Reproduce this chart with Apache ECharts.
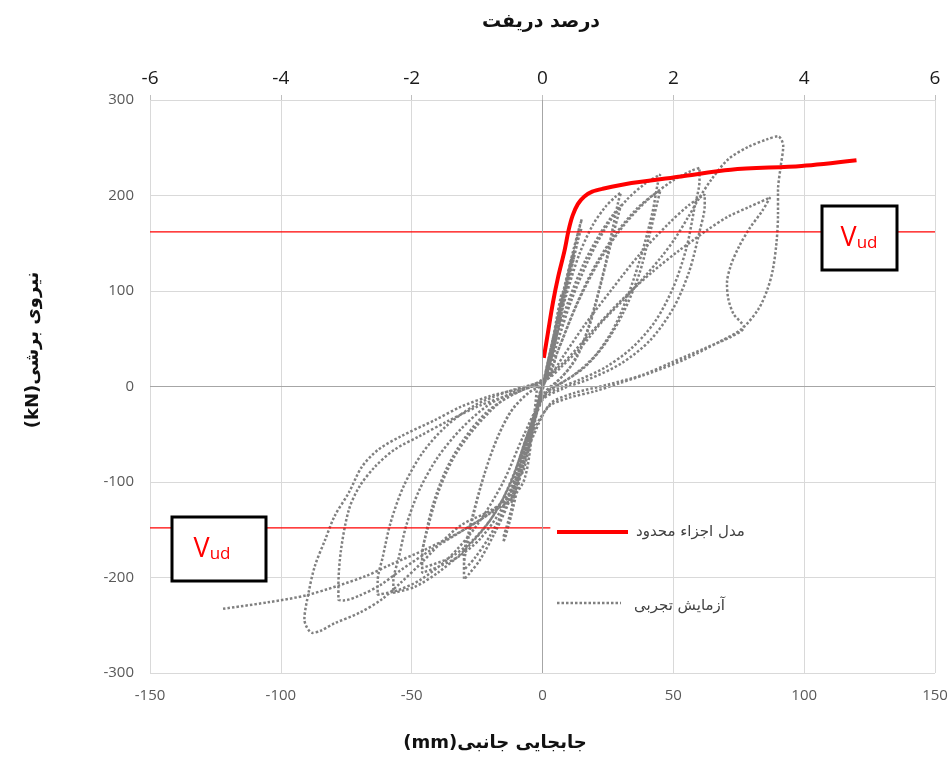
<!DOCTYPE html>
<html>
<head>
<meta charset="utf-8">
<script src="https://cdn.jsdelivr.net/npm/echarts@6/dist/echarts.min.js"></script>
<style>html,body{margin:0;padding:0;background:#fff;}#c{width:952px;height:758px;}</style>
</head>
<body>
<div id="c"></div>
<script>
// ---- data ----
const xTicksBottom = [-150, -100, -50, 0, 50, 100, 150];
const xTicksTop = [-6, -4, -2, 0, 2, 4, 6];
const yTicks = [-300, -200, -100, 0, 100, 200, 300];

const vudTop = 162;
const vudBottom = -148;

// finite element model curve [mm, kN]
const feModel = [[0.5,30],[2,55],[4,88],[6,115],[8.4,142],[10,164],[11.5,179],[13.5,191],[16,199],[19,204],[23,207],[34,213],[53,220],[72,227],[99,231],[120,237]];

// experimental test, cycle by cycle [mm, kN]
const cyc1 = [[0,0],[2,24],[4,46],[5,58],[4,50],[1.5,18],[-1,-10],[-3,-33],[-5,-55],[-4,-47],[-1.5,-16],[0,0]];
const cyc2 = [[2,25],[5,62],[8,100],[7,94],[4,50],[1,10],[-2,-22],[-5,-58],[-8,-92],[-7,-86],[-3,-38],[0,0]];
const cyc3 = [[3,38],[7,86],[10,120],[12,140],[11,133],[7,80],[2,18],[-2,-22],[-6,-64],[-10,-104],[-12,-122],[-11,-116],[-6,-62],[-1,-6]];
const cyc4 = [[3,30],[7,80],[10,115],[12,135],[11,126],[6,64],[1,8],[-3,-32],[-7,-74],[-10,-102],[-12,-118],[-11,-110],[-6,-56],[0,2]];
const cyc5 = [[4,50],[8,100],[12,145],[15,175],[14,166],[10,115],[5,50],[0,2],[-4,-42],[-8,-88],[-12,-132],[-15,-163],[-14,-156],[-10,-112],[-5,-52],[1,8]];
const cyc6 = [[5,56],[9,105],[13,150],[15,166],[14,158],[9,98],[4,36],[0,-4],[-5,-52],[-9,-96],[-13,-140],[-15,-158],[-13,-146],[-8,-88],[-3,-30],[1,6]];
const cyc7 = [[4,45],[9,95],[14,138],[19,168],[24,188],[28,199],[30,203],[29,194],[27,168],[24,128],[20,85],[16,50],[11,22],[6,6],[1,-8],[-3,-35],[-8,-82],[-13,-122],[-18,-152],[-24,-182],[-28,-196],[-30,-202],[-30,-188],[-29,-168],[-26,-130],[-22,-90],[-17,-52],[-11,-22],[-5,-6],[1,5]];
const cyc7b = [[4,40],[10,90],[16,130],[22,160],[27,180],[30,190],[29,180],[26,148],[22,104],[18,64],[13,30],[7,9],[1,-6],[-4,-40],[-9,-86],[-14,-124],[-20,-156],[-26,-180],[-30,-192],[-30,-178],[-28,-150],[-24,-108],[-19,-66],[-13,-30],[-6,-8],[1,5]];
const cyc8 = [[5,40],[11,90],[18,135],[25,170],[32,195],[39,212],[45,222],[44,212],[42,182],[38,140],[33,98],[27,60],[20,32],[12,12],[5,0],[0,-10],[-5,-48],[-10,-92],[-16,-130],[-24,-160],[-32,-178],[-40,-189],[-46,-195],[-46,-180],[-45,-160],[-42,-125],[-37,-88],[-30,-55],[-21,-26],[-11,-8],[-3,2],[2,8]];
const cyc8b = [[6,38],[13,86],[20,126],[28,160],[36,186],[42,200],[45,205],[44,194],[41,160],[37,118],[31,78],[24,45],[16,20],[8,5],[1,-8],[-5,-45],[-11,-92],[-18,-132],[-27,-162],[-36,-180],[-46,-190],[-46,-176],[-44,-150],[-40,-112],[-34,-75],[-26,-44],[-16,-16],[-7,-3],[1,6]];
const cyc9 = [[6,38],[13,85],[21,128],[30,165],[40,195],[50,216],[57,226],[60,229],[60,216],[58,186],[55,145],[50,104],[43,68],[34,40],[24,20],[14,7],[6,-2],[0,-12],[-6,-52],[-12,-100],[-20,-140],[-30,-172],[-40,-195],[-49,-210],[-57,-216],[-57,-204],[-55,-180],[-52,-145],[-47,-108],[-40,-74],[-31,-44],[-21,-20],[-11,-6],[-3,2],[2,8]];
const cyc10 = [[8,32],[16,64],[26,100],[37,138],[48,170],[56,190],[62,201],[62,190],[60,162],[56,120],[50,82],[41,48],[30,24],[18,8],[8,-2],[0,-14],[-7,-50],[-15,-100],[-25,-145],[-36,-180],[-47,-203],[-56,-214],[-63,-218],[-63,-204],[-61,-178],[-58,-142],[-53,-104],[-46,-70],[-37,-42],[-26,-20],[-14,-6],[-4,2],[2,8]];
const cyc11 = [[7,20],[15,42],[22.5,67],[31,91],[39,115],[45.5,136],[50.4,154],[55.8,178],[59.6,196],[64.6,217],[71,238],[78.7,251],[86,259],[90,262],[92,252],[91,230],[90,205],[90,180],[89.4,150],[88,122],[86,102],[82.5,81],[76,60],[67,46],[54,28],[42,15],[30,4],[20,-5],[10,-12],[2,-22],[-6,-62],[-13,-115],[-20,-130],[-31,-145],[-38.6,-163],[-46,-184],[-54,-205],[-61.5,-223],[-70,-237],[-79.5,-248],[-85,-256],[-88,-258],[-91,-244],[-89.4,-216],[-87,-188],[-83,-160],[-79.5,-136],[-74,-111],[-69,-84],[-62.7,-66],[-54,-52],[-41,-35],[-31,-21],[-20,-10],[-10,-3],[-2,4]];
const cyc12 = [[8,25],[18,55],[30,90],[42,120],[52,142],[58,154],[63,164],[71,178],[79,188],[87,198],[84,184],[79,165],[75,146],[72,127],[70.5,108],[71,92],[73,76],[77,62],[72,52],[62,40],[50,26],[38,12],[25,2],[12,-7],[3,-18],[-4,-55],[-11,-105],[-19,-130],[-30,-150],[-42,-170],[-54,-192],[-62,-208],[-70,-219],[-76,-224],[-78,-223],[-78,-209],[-77,-171],[-74,-129],[-70,-105],[-64,-84],[-56.5,-66],[-47,-52],[-36,-36],[-24,-20],[-12,-8],[-2,2]];
const cyc13 = [[-4,-50],[-6.9,-97],[-12,-118],[-19.5,-132],[-30,-150],[-45,-171],[-57.7,-186],[-68,-199],[-89.4,-218],[-105,-226],[-122.7,-233]];

const testCurve = [].concat(cyc1,cyc2,cyc3,cyc4,cyc5,cyc6,cyc7,cyc7b,cyc8,cyc8b,cyc9,cyc10,cyc11,cyc12,cyc13);

const nameFE = 'مدل اجزاء محدود';
const nameTest = 'آزمایش تجربی';
const titleTop = 'درصد دریفت';
const titleX = '\u202Bجابجایی جانبی(mm)\u202C';
const titleY = '\u202Bنیروی برشی(kN)\u202C';

// ---- chart ----
const chart = echarts.init(document.getElementById('c'), null, {renderer:'canvas'});
const arabicFont = "'DejaVu Sans', sans-serif";
const numFont = "'Open Sans', 'Noto Sans', sans-serif";
const vudRich = {v:{fontSize:27, fontFamily:numFont, fill:'#ff0000'}, s:{fontSize:17, fontFamily:numFont, fill:'#ff0000', padding:[10,0,0,0]}};

const option = {
  animation: false,
  backgroundColor: '#ffffff',
  grid: {left:150, right:17, top:100, bottom:85, containLabel:false},
  xAxis: [
    {
      type:'value', position:'bottom', min:xTicksBottom[0], max:xTicksBottom[xTicksBottom.length-1], interval:50,
      axisLine:{show:false}, axisTick:{show:false},
      splitLine:{show:true, lineStyle:{color:'#d9d9d9', width:1}},
      axisLabel:{color:'#595959', fontSize:15, fontFamily:numFont, margin:15}
    },
    {
      type:'value', position:'top', min:xTicksTop[0], max:xTicksTop[xTicksTop.length-1], interval:2,
      axisLine:{show:false},
      axisTick:{show:true, length:5, lineStyle:{color:'#bfbfbf'}},
      splitLine:{show:false},
      axisLabel:{color:'#1a1a1a', fontSize:19, fontFamily:numFont, margin:12}
    }
  ],
  yAxis: {
    type:'value', min:yTicks[0], max:yTicks[yTicks.length-1], interval:100,
    axisLine:{show:false}, axisTick:{show:false},
    splitLine:{show:true, lineStyle:{color:'#d9d9d9', width:1}},
    axisLabel:{color:'#595959', fontSize:15, fontFamily:numFont, margin:16}
  },
  series: [
    {
      type:'line', silent:true, data:[], xAxisIndex:0,
      markLine:{silent:true, symbol:['none','none'], label:{show:false},
        lineStyle:{color:'#a6a6a6', width:1, type:'solid'},
        data:[{yAxis:0},{xAxis:0}]}, z:1
    },
    {
      name:nameTest, type:'line', xAxisIndex:0, data:testCurve, symbol:'none', showSymbol:false,
      smooth:0.3, lineStyle:{color:'#808080', width:2.5, type:[2.5,2]}, z:2
    },
    {
      type:'line', xAxisIndex:0, data:[[-150,vudTop],[150,vudTop]], symbol:'none', silent:true,
      lineStyle:{color:'#ff0000', width:1.3}, z:3
    },
    {
      type:'line', xAxisIndex:0, data:[[-150,vudBottom],[3,vudBottom]], symbol:'none', silent:true,
      lineStyle:{color:'#ff0000', width:1.3}, z:3
    },
    {
      name:nameFE, type:'line', xAxisIndex:0, data:feModel, symbol:'none', showSymbol:false,
      smooth:0.3, lineStyle:{color:'#ff0000', width:4}, z:4
    }
  ],
  graphic: [
    // titles
    {type:'text', x:541, y:22, style:{text:titleTop, font:"bold 19px 'DejaVu Sans', sans-serif", fill:'#111', align:'center', verticalAlign:'middle'}},
    {type:'text', x:495, y:743, style:{text:titleX, font:"bold 18px 'DejaVu Sans', sans-serif", fill:'#111', align:'center', verticalAlign:'middle'}},
    {type:'text', x:33, y:350, rotation:Math.PI/2, style:{text:titleY, font:"bold 18px 'DejaVu Sans', sans-serif", fill:'#111', align:'center', verticalAlign:'middle'}},
    // legend
    {type:'line', shape:{x1:557, y1:532, x2:628, y2:532}, style:{stroke:'#ff0000', lineWidth:4}, z:50},
    {type:'text', x:636, y:532, style:{text:nameFE, font:"15px 'DejaVu Sans', sans-serif", fill:'#404040', align:'left', verticalAlign:'middle'}, z:50},
    {type:'line', shape:{x1:557, y1:603, x2:621, y2:603}, style:{stroke:'#808080', lineWidth:2.5, lineDash:[2.5,2]}, z:50},
    {type:'text', x:634, y:606, style:{text:nameTest, font:"15px 'DejaVu Sans', sans-serif", fill:'#404040', align:'left', verticalAlign:'middle'}, z:50},
    // V_ud boxes
    {type:'rect', shape:{x:822, y:206, width:75, height:64}, style:{fill:'#fff', stroke:'#000', lineWidth:3}, z:100},
    {type:'text', x:859, y:238, style:{text:'{v|V}{s|ud}', fill:'#ff0000', align:'center', verticalAlign:'middle', rich:vudRich}, z:101},
    {type:'rect', shape:{x:172, y:517, width:94, height:64}, style:{fill:'#fff', stroke:'#000', lineWidth:3}, z:100},
    {type:'text', x:212, y:549, style:{text:'{v|V}{s|ud}', fill:'#ff0000', align:'center', verticalAlign:'middle', rich:vudRich}, z:101}
  ]
};
chart.setOption(option);
</script>
</body>
</html>
